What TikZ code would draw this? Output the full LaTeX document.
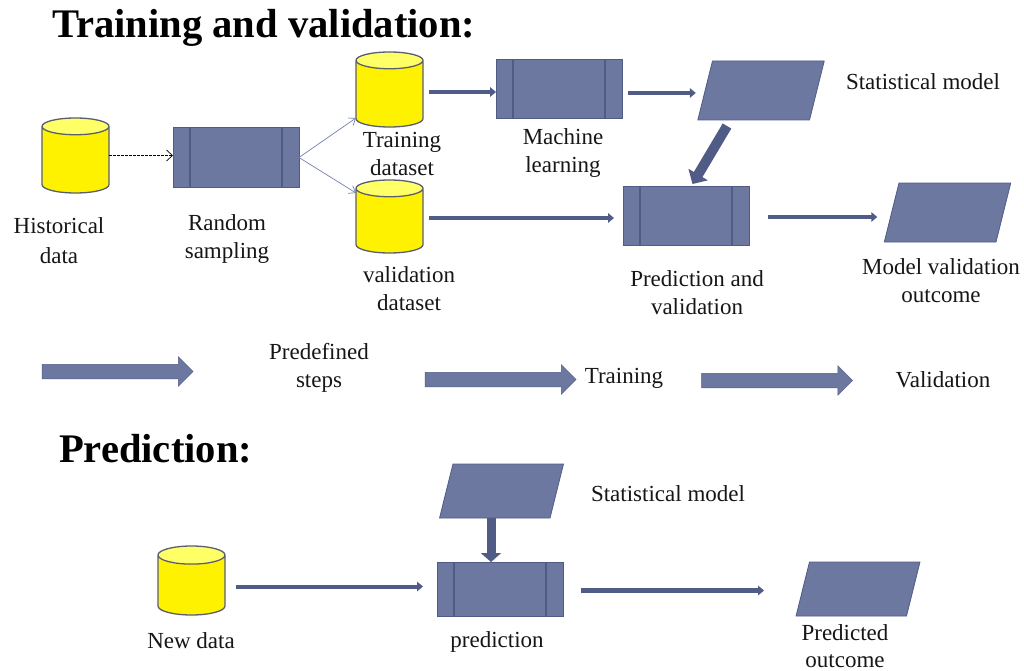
\documentclass[tikz,border=0pt]{standalone}
\usepackage{fontspec}
\setmainfont{Liberation Serif}
\usetikzlibrary{shapes.geometric,shapes.arrows,arrows.meta,calc}
\definecolor{bluefill}{HTML}{6C789F}
\definecolor{blueline}{HTML}{505C86}
\definecolor{thinblue}{HTML}{7480B0}
\definecolor{cylline}{HTML}{5A5F70}
\definecolor{cyltop}{HTML}{FFFF66}
\definecolor{txt}{HTML}{161616}
\tikzset{
  base/.style={inner sep=0pt,outer sep=0pt},
  datacyl/.style={base,cylinder,anchor=shape center,shape border rotate=90,draw=cylline,line width=1.3pt,
    cylinder uses custom fill,cylinder body fill=yellow,cylinder end fill=cyltop,
    inner xsep=33.5pt,inner ysep=10pt,aspect=0.25,minimum height=75pt},
  procbox/.style={base,draw=blueline,line width=1pt,fill=bluefill,rectangle,minimum width=126pt,minimum height=59pt,
    path picture={
      \draw[blueline,line width=1.3pt] ([xshift=17pt]path picture bounding box.north west)--([xshift=17pt]path picture bounding box.south west);
      \draw[blueline,line width=1.3pt] ([xshift=-17pt]path picture bounding box.north east)--([xshift=-17pt]path picture bounding box.south east);
    }},
  iobox/.style={base,trapezium,trapezium left angle=76,trapezium right angle=104,
    draw=blueline,line width=0.8pt,fill=bluefill,inner xsep=48.5pt,inner ysep=29.5pt},
  textlabel/.style={base,align=center,text=txt,font=\fontsize{23}{28}\selectfont},
  headline/.style={base,anchor=base west,text=black,font=\fontsize{40.6}{44}\selectfont\bfseries},
  flow/.style={draw=blueline,color=blueline,line width=4pt,-{Triangle[length=6pt,width=9.5pt]}},
  heavy/.style={color=blueline,line width=10pt,-{Triangle[length=11pt,width=22pt]}},
  thinflow/.style={draw=thinblue,line width=0.7pt,-{Straight Barb[length=6pt,width=9pt]}},
  dashflow/.style={draw=black,line width=0.7pt,dash pattern=on 3pt off 1pt,-{Straight Barb[length=6pt,width=11pt]}},
  legend/.style={base,single arrow,draw=blueline,fill=bluefill,line width=0.5pt,inner xsep=0pt,inner ysep=7pt,
    minimum width=29pt,minimum height=151pt,single arrow head extend=7.5pt,single arrow head indent=0pt}
}
\begin{document}
\begin{tikzpicture}[x=1pt,y=-1pt]
\useasboundingbox (0,0) rectangle (1024,671);
\fill[white] (0,0) rectangle (1024,671);

\node[headline] (title1) at (52,38) {Training and validation:};
\node[headline] (title2) at (59,462) {Prediction:};

% top flow
\node[datacyl] (hist) at (75.5,155.5) {};
\node[procbox] (rand) at (236,157.5) {};
\node[datacyl] (train) at (389.5,89.5) {};
\node[datacyl,minimum height=73pt] (valid) at (389.5,216.5) {};
\node[procbox] (ml) at (559,89.5) {};
\node[iobox] (stat) at (761,90.5) {};
\node[procbox] (pred) at (686,215.5) {};
\node[iobox] (out) at (947.5,212.5) {};

\draw[dashflow] (hist.east |- 0,155.5) -- (rand.west |- 0,155.5);
\draw[thinflow] (rand.east) -- (train.west |- 0,118);
\draw[thinflow] (rand.east) -- (valid.west |- 0,193);
\draw[flow,line width=4.5pt,shorten <=6pt] (train.east |- 0,92) -- (ml.west |- 0,92);
\draw[flow,shorten <=6pt] (ml.east |- 0,93) -- ([xshift=-2pt]stat.bottom left corner |- 0,93);
\draw[flow,shorten <=6pt,shorten >=9pt] (valid.east |- 0,218) -- (pred.west |- 0,218);
\draw[flow,line width=4.5pt,shorten <=19pt] (pred.east |- 0,217) -- ([xshift=-7pt]out.bottom left corner |- 0,217);
\draw[heavy] ([xshift=-34pt,yshift=-6pt]stat.south) -- ([xshift=6.5pt,yshift=2pt]pred.north);

% legend
\node[legend] (lg1) at (114,371.5) {};
\node[legend] (lg2) at (497,379.5) {};
\node[legend] (lg3) at (773.5,380.5) {};

% prediction flow
\node[iobox,inner ysep=27pt] (stat2) at (501.5,491) {};
\node[datacyl,minimum height=69pt,aspect=0.27] (newd) at (191.5,580.5) {};
\node[procbox,minimum height=54pt] (pred2) at (500,589) {};
\node[iobox,inner ysep=27pt] (out2) at (858,589) {};
\draw[flow,shorten <=11pt,shorten >=14pt] (newd.east |- 0,586.5) -- (pred2.west |- 0,586.5);
\draw[flow,line width=4.5pt,shorten <=18pt] (pred2.east |- 0,590.5) -- ([xshift=-32pt]out2.bottom left corner |- 0,590.5);
\draw[heavy,line width=9pt,-{Triangle[length=9pt,width=20pt]}] ([xshift=-10.5pt]stat2.south) -- ([xshift=-9pt]pred2.north);

% labels
\node[textlabel] (l1) at (59,241) {Historical\\[2pt]data};
\node[textlabel] (l2) at (227,239.5) {Random\\sampling};
\node[textlabel] (l3) at (402,153.5) {Training\\dataset};
\node[textlabel] (l4) at (409,289) {validation\\dataset};
\node[textlabel] (l5) at (563,153.5) {Machine\\learning};
\node[textlabel] (l6) at (923,82) {Statistical model};
\node[textlabel] (l7) at (697,292.5) {Prediction and\\validation};
\node[textlabel] (l8) at (941,281) {Model validation\\outcome};
\node[textlabel] (l9) at (319,368) {Predefined\\steps};
\node[textlabel] (l10) at (624,378) {Training};
\node[textlabel] (l11) at (943,380) {Validation};
\node[textlabel] (l12) at (668,494) {Statistical model};
\node[textlabel] (l13) at (191,641) {New data};
\node[textlabel] (l14) at (497,642) {prediction};
\node[textlabel,font=\fontsize{23}{27}\selectfont] (l15) at (845,646) {Predicted\\outcome};
\end{tikzpicture}
\end{document}
